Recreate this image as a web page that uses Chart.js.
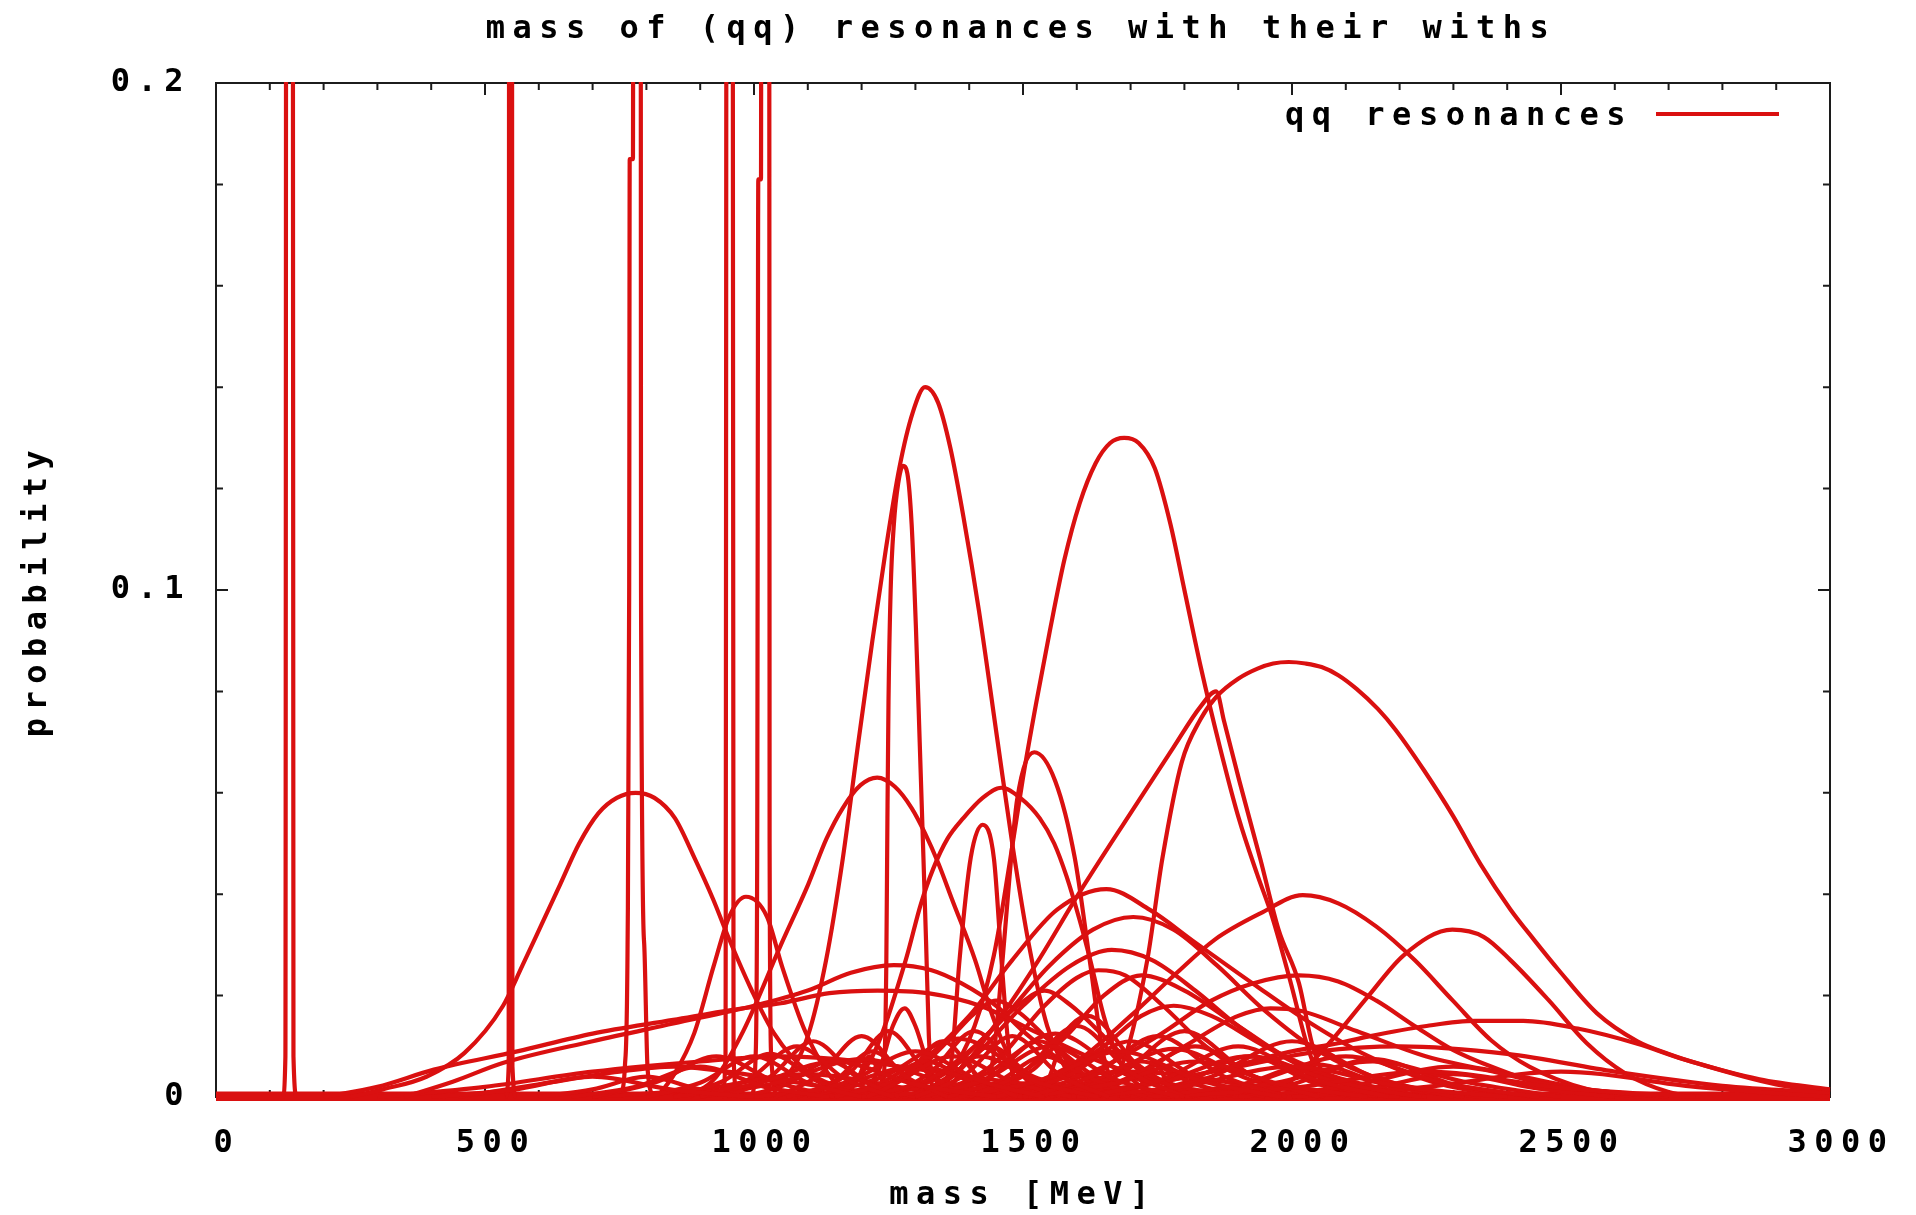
<!DOCTYPE html>
<html>
<head>
<meta charset="utf-8">
<title>qq resonances</title>
<script src="https://cdn.jsdelivr.net/npm/chart.js@4.4.1/dist/chart.umd.min.js"></script>
<style>
  html, body { margin: 0; background: #fff; }
  canvas { display: block; }
</style>
</head>
<body>
<canvas id="resonances" width="1916" height="1215"></canvas>
<script>
// axes
const massRange = [0, 3000];
const probRange = [0, 0.2];
const massLabels = [0, 500, 1000, 1500, 2000, 2500, 3000];
const probLabels = [0, 0.1, 0.2];

// [mass MeV, probability] per resonance

// very narrow states, they run off the top of the plot
const narrowStates = [
  [[124, 0], [129, 0.008], [132, 0.6], [141, 0.6], [144, 0.008], [150, 0]],
  [[538, 0], [544, 0.006], [546, 0.6], [549, 0.6], [551, 0.006], [558, 0]],
  [[752, 0], [760, 0.006], [765, 0.03], [768, 0.1], [769, 0.185], [775, 0.185], [777, 0.6], [788, 0.6], [790, 0.1], [796, 0.03], [802, 0.006], [812, 0]],
  [[940, 0], [947, 0.008], [951, 0.6], [958, 0.6], [962, 0.008], [970, 0]],
  [[996, 0], [1003, 0.008], [1006, 0.05], [1008, 0.181], [1013, 0.181], [1015, 0.6], [1027, 0.6], [1029, 0.05], [1032, 0.008], [1040, 0]]
];

// the big ones
const tallStates = [
  [[1000, 0], [1060, 0.004], [1100, 0.012], [1134, 0.027], [1165, 0.047], [1194, 0.070], [1220, 0.090], [1245, 0.108], [1270, 0.124], [1295, 0.135], [1318, 0.140], [1342, 0.137], [1365, 0.128], [1390, 0.114], [1418, 0.096], [1453, 0.070], [1480, 0.050], [1511, 0.030], [1545, 0.014], [1590, 0.004], [1650, 0]],
  [[1238, 0], [1243, 0.008], [1246, 0.027], [1248, 0.055], [1250, 0.078], [1254, 0.100], [1260, 0.113], [1268, 0.121], [1277, 0.1245], [1285, 0.123], [1293, 0.113], [1301, 0.0925], [1308, 0.070], [1315, 0.047], [1320, 0.030], [1325, 0.012], [1332, 0]],
  [[1300, 0], [1360, 0.004], [1410, 0.014], [1446, 0.028], [1475, 0.046], [1500, 0.063], [1525, 0.078], [1550, 0.092], [1577, 0.106], [1605, 0.117], [1635, 0.125], [1662, 0.129], [1688, 0.130], [1715, 0.129], [1745, 0.124], [1774, 0.113], [1800, 0.100], [1830, 0.085], [1866, 0.069], [1901, 0.055], [1935, 0.044], [1963, 0.0356], [1998, 0.0224], [2027, 0.0106], [2055, 0.003], [2100, 0]],
  [[1300, 0], [1380, 0.005], [1460, 0.016], [1529, 0.027], [1603, 0.040], [1700, 0.056], [1780, 0.069], [1830, 0.077], [1859, 0.080], [1874, 0.074], [1902, 0.0624], [1941, 0.047], [1975, 0.033], [2013, 0.0224], [2037, 0.0106], [2065, 0.003], [2110, 0]],
  [[1640, 0], [1690, 0.008], [1731, 0.027], [1759, 0.047], [1795, 0.066], [1830, 0.0745], [1860, 0.079], [1900, 0.0825], [1936, 0.0845], [1965, 0.0855], [1994, 0.0858], [2025, 0.0855], [2055, 0.0848], [2086, 0.0832], [2120, 0.0805], [2160, 0.0765], [2192, 0.0725], [2245, 0.0645], [2299, 0.0555], [2350, 0.046], [2406, 0.037], [2450, 0.031], [2496, 0.025], [2567, 0.0165], [2642, 0.011], [2700, 0.0085], [2758, 0.0065], [2900, 0.0025], [3000, 0.001]]
];

// medium peaks
const midStates = [
  [[250, 0], [310, 0.0015], [391, 0.004], [462, 0.0087], [533, 0.0179], [569, 0.0258], [605, 0.034], [640, 0.042], [675, 0.050], [711, 0.056], [745, 0.059], [780, 0.060], [815, 0.059], [853, 0.055], [890, 0.047], [924, 0.039], [952, 0.0316], [995, 0.0212], [1037, 0.0126], [1100, 0.005], [1200, 0.001], [1300, 0]],
  [[820, 0], [853, 0.0047], [889, 0.0126], [925, 0.0258], [954, 0.0356], [985, 0.0395], [1024, 0.0356], [1052, 0.0258], [1095, 0.013], [1150, 0.003], [1200, 0]],
  [[880, 0], [930, 0.004], [980, 0.013], [1050, 0.030], [1101, 0.042], [1135, 0.051], [1165, 0.057], [1198, 0.0615], [1229, 0.063], [1262, 0.0612], [1293, 0.057], [1318, 0.052], [1343, 0.046], [1368, 0.039], [1411, 0.027], [1440, 0.017], [1470, 0.009], [1510, 0.003], [1560, 0]],
  [[1150, 0], [1220, 0.008], [1282, 0.027], [1310, 0.038], [1333, 0.045], [1360, 0.051], [1389, 0.055], [1425, 0.059], [1460, 0.061], [1495, 0.059], [1531, 0.055], [1558, 0.050], [1581, 0.0435], [1605, 0.035], [1625, 0.027], [1650, 0.016], [1680, 0.007], [1740, 0]],
  [[1420, 0], [1445, 0.008], [1462, 0.027], [1475, 0.0435], [1489, 0.0586], [1521, 0.068], [1560, 0.0623], [1596, 0.0473], [1624, 0.027], [1650, 0.008], [1680, 0]],
  [[1350, 0], [1368, 0.008], [1382, 0.027], [1403, 0.0473], [1425, 0.0537], [1446, 0.047], [1460, 0.027], [1475, 0.008], [1495, 0]],
  [[1200, 0], [1300, 0.006], [1400, 0.016], [1480, 0.027], [1564, 0.037], [1655, 0.041], [1736, 0.0369], [1821, 0.0304], [1927, 0.0224], [2034, 0.0146], [2141, 0.0081], [2260, 0.003], [2400, 0]],
  [[1250, 0], [1350, 0.005], [1450, 0.014], [1550, 0.026], [1630, 0.033], [1705, 0.0355], [1780, 0.033], [1860, 0.026], [1950, 0.017], [2050, 0.009], [2180, 0.003], [2350, 0]],
  [[1300, 0], [1400, 0.007], [1500, 0.018], [1590, 0.026], [1665, 0.029], [1740, 0.027], [1820, 0.021], [1900, 0.014], [2000, 0.007], [2120, 0.002], [2250, 0]],
  [[1350, 0], [1450, 0.007], [1540, 0.018], [1600, 0.0235], [1640, 0.025], [1690, 0.024], [1760, 0.018], [1840, 0.010], [1930, 0.004], [2050, 0]],
  [[1400, 0], [1500, 0.002], [1600, 0.007], [1700, 0.016], [1785, 0.0244], [1856, 0.031], [1941, 0.0362], [2020, 0.0398], [2086, 0.0382], [2157, 0.0336], [2228, 0.027], [2299, 0.019], [2370, 0.0112], [2441, 0.006], [2550, 0.0015], [2650, 0]],
  [[1960, 0], [2015, 0.0047], [2069, 0.0106], [2141, 0.0198], [2208, 0.028], [2298, 0.033], [2356, 0.0316], [2406, 0.027], [2477, 0.0191], [2548, 0.0106], [2619, 0.0047], [2700, 0.001], [2760, 0]],
  [[1450, 0], [1550, 0.002], [1650, 0.006], [1750, 0.012], [1850, 0.019], [1927, 0.0224], [2013, 0.024], [2086, 0.0228], [2157, 0.019], [2228, 0.014], [2299, 0.0093], [2370, 0.006], [2480, 0.002], [2600, 0]]
];

// wide, low states
const lowStates = [
  [[1500, 0], [1700, 0.002], [1850, 0.005], [2000, 0.009], [2086, 0.0106], [2141, 0.0119], [2250, 0.014], [2340, 0.015], [2430, 0.015], [2531, 0.0135], [2642, 0.0105], [2726, 0.0075], [2869, 0.0035], [3000, 0.0015]],
  [[200, 0], [300, 0.002], [405, 0.0054], [560, 0.009], [700, 0.0125], [850, 0.0152], [960, 0.0172], [1050, 0.0185], [1140, 0.0205], [1230, 0.021], [1323, 0.0205], [1420, 0.018], [1520, 0.013], [1620, 0.008], [1750, 0.003], [1900, 0]],
  [[350, 0], [440, 0.003], [533, 0.0067], [700, 0.011], [850, 0.0145], [1000, 0.018], [1100, 0.021], [1180, 0.0245], [1260, 0.026], [1330, 0.025], [1386, 0.0224], [1450, 0.018], [1500, 0.013], [1560, 0.008], [1640, 0.003], [1750, 0]],
  [[1200, 0], [1235, 0.006], [1258, 0.014], [1280, 0.0175], [1300, 0.014], [1325, 0.006], [1360, 0]],
  [[1250, 0], [1360, 0.005], [1430, 0.012], [1490, 0.018], [1540, 0.021], [1590, 0.018], [1650, 0.012], [1720, 0.005], [1830, 0]],
  [[1200, 0], [1300, 0.005], [1360, 0.011], [1410, 0.0165], [1450, 0.019], [1495, 0.0165], [1550, 0.011], [1620, 0.005], [1720, 0]],
  [[1400, 0], [1500, 0.005], [1580, 0.012], [1650, 0.020], [1720, 0.024], [1800, 0.021], [1900, 0.014], [2020, 0.006], [2150, 0.0015], [2250, 0]],
  [[1450, 0], [1560, 0.004], [1650, 0.010], [1720, 0.016], [1780, 0.018], [1850, 0.016], [1950, 0.010], [2080, 0.004], [2250, 0]],
  [[1600, 0], [1700, 0.004], [1800, 0.010], [1900, 0.016], [1960, 0.0175], [2015, 0.017], [2120, 0.013], [2250, 0.008], [2406, 0.0045], [2550, 0.0015], [2700, 0]],
  [[1500, 0], [1700, 0.002], [1900, 0.006], [2050, 0.009], [2200, 0.010], [2400, 0.0085], [2600, 0.005], [2800, 0.0022], [3000, 0.0008]],
  [[300, 0], [500, 0.002], [700, 0.005], [900, 0.007], [1050, 0.008], [1200, 0.007], [1400, 0.004], [1600, 0.0015], [1800, 0]],
  [[450, 0], [600, 0.0025], [750, 0.005], [850, 0.006], [950, 0.005], [1100, 0.0025], [1250, 0]]
];

// small bumps crowding the floor
const floorStates = [
  [[400, 0], [550, 0.0014], [700, 0.004], [850, 0.0014], [1000, 0]],
  [[660, 0], [780, 0.002], [900, 0.006], [1020, 0.002], [1140, 0]],
  [[800, 0], [900, 0.0028], [1000, 0.008], [1100, 0.0028], [1200, 0]],
  [[900, 0], [990, 0.0035], [1080, 0.010], [1170, 0.0035], [1260, 0]],
  [[850, 0], [1000, 0.0025], [1150, 0.007], [1300, 0.0025], [1450, 0]],
  [[1040, 0], [1120, 0.0042], [1200, 0.012], [1280, 0.0042], [1360, 0]],
  [[1060, 0], [1180, 0.0032], [1300, 0.009], [1420, 0.0032], [1540, 0]],
  [[1210, 0], [1280, 0.0038], [1350, 0.011], [1420, 0.0038], [1490, 0]],
  [[1200, 0], [1310, 0.0028], [1420, 0.008], [1530, 0.0028], [1640, 0]],
  [[1300, 0], [1390, 0.0042], [1480, 0.012], [1570, 0.0042], [1660, 0]],
  [[1310, 0], [1430, 0.0035], [1550, 0.010], [1670, 0.0035], [1790, 0]],
  [[1400, 0], [1500, 0.0049], [1600, 0.014], [1700, 0.0049], [1800, 0]],
  [[1380, 0], [1530, 0.0032], [1680, 0.009], [1830, 0.0032], [1980, 0]],
  [[1510, 0], [1630, 0.0042], [1750, 0.012], [1870, 0.0042], [1990, 0]],
  [[1500, 0], [1660, 0.0025], [1820, 0.007], [1980, 0.0025], [2140, 0]],
  [[1620, 0], [1760, 0.0035], [1900, 0.010], [2040, 0.0035], [2180, 0]],
  [[1600, 0], [1800, 0.0021], [2000, 0.006], [2200, 0.0021], [2400, 0]],
  [[1740, 0], [1920, 0.0028], [2100, 0.008], [2280, 0.0028], [2460, 0]],
  [[1750, 0], [2000, 0.0018], [2250, 0.005], [2500, 0.0018], [2750, 0]],
  [[950, 0], [1030, 0.004], [1110, 0.011], [1190, 0.004], [1270, 0]],
  [[1100, 0], [1180, 0.005], [1250, 0.013], [1320, 0.005], [1400, 0]],
  [[1150, 0], [1260, 0.003], [1370, 0.008], [1480, 0.003], [1590, 0]],
  [[1250, 0], [1330, 0.005], [1410, 0.013], [1490, 0.005], [1570, 0]],
  [[1330, 0], [1440, 0.004], [1530, 0.011], [1620, 0.004], [1730, 0]],
  [[1420, 0], [1520, 0.0055], [1620, 0.016], [1720, 0.0055], [1820, 0]],
  [[1450, 0], [1580, 0.004], [1700, 0.011], [1820, 0.004], [1950, 0]],
  [[1550, 0], [1680, 0.0045], [1800, 0.013], [1920, 0.0045], [2050, 0]],
  [[1600, 0], [1760, 0.003], [1920, 0.008], [2080, 0.003], [2240, 0]],
  [[1700, 0], [1850, 0.004], [2000, 0.011], [2150, 0.004], [2300, 0]],
  [[1800, 0], [1980, 0.003], [2150, 0.007], [2320, 0.003], [2500, 0]],
  [[1900, 0], [2100, 0.002], [2300, 0.006], [2500, 0.002], [2700, 0]],
  [[2000, 0], [2250, 0.002], [2500, 0.005], [2750, 0.002], [3000, 0]],
  [[1200, 0], [1450, 0.002], [1700, 0.005], [1950, 0.002], [2200, 0]],
  [[900, 0], [1050, 0.003], [1200, 0.0075], [1350, 0.003], [1500, 0]],
  [[1000, 0], [1150, 0.002], [1300, 0.006], [1450, 0.002], [1600, 0]],
  [[600, 0], [700, 0.0015], [800, 0.004], [900, 0.0015], [1000, 0]],
  [[700, 0], [820, 0.003], [930, 0.008], [1040, 0.003], [1150, 0]],
  [[850, 0], [940, 0.003], [1030, 0.0085], [1120, 0.003], [1210, 0]],
  [[980, 0], [1060, 0.0025], [1140, 0.007], [1220, 0.0025], [1300, 0]],
  [[1080, 0], [1150, 0.0032], [1220, 0.009], [1290, 0.0032], [1360, 0]],
  [[1140, 0], [1230, 0.0025], [1320, 0.007], [1410, 0.0025], [1500, 0]],
  [[1280, 0], [1360, 0.0035], [1440, 0.010], [1520, 0.0035], [1600, 0]],
  [[1360, 0], [1450, 0.0028], [1540, 0.008], [1630, 0.0028], [1720, 0]],
  [[1460, 0], [1560, 0.0032], [1660, 0.009], [1760, 0.0032], [1860, 0]],
  [[1520, 0], [1620, 0.0025], [1720, 0.007], [1820, 0.0025], [1920, 0]],
  [[1580, 0], [1700, 0.0035], [1820, 0.010], [1940, 0.0035], [2060, 0]],
  [[1680, 0], [1800, 0.0028], [1920, 0.008], [2040, 0.0028], [2160, 0]],
  [[1760, 0], [1900, 0.0022], [2040, 0.0065], [2180, 0.0022], [2320, 0]],
  [[1850, 0], [2000, 0.0025], [2150, 0.0075], [2300, 0.0025], [2450, 0]],
  [[2000, 0], [2150, 0.0018], [2300, 0.0045], [2450, 0.0018], [2600, 0]],
  [[1100, 0], [1240, 0.004], [1380, 0.0115], [1520, 0.004], [1660, 0]],
  [[1300, 0], [1430, 0.0045], [1560, 0.0125], [1690, 0.0045], [1820, 0]],
  [[1500, 0], [1640, 0.0035], [1780, 0.0095], [1920, 0.0035], [2060, 0]],
  [[700, 0], [900, 0.0015], [1100, 0.0045], [1300, 0.0015], [1500, 0]],
  [[1150, 0], [1190, 0.003], [1215, 0.008], [1240, 0.003], [1280, 0]],
  [[1500, 0], [1545, 0.003], [1570, 0.009], [1595, 0.003], [1640, 0]],
  [[1330, 0], [1370, 0.0025], [1395, 0.007], [1420, 0.0025], [1460, 0]],
  [[1680, 0], [1720, 0.0025], [1745, 0.007], [1770, 0.0025], [1810, 0]]
];

// all the tails piled up on zero
const baseline = [[0, 0], [3000, 0]];

const lineRed = 'rgb(218, 16, 16)';
const textFont = { family: "'DejaVu Sans Mono', monospace", size: 32, weight: 'bold' };
const fontCss = "bold 32px 'DejaVu Sans Mono', monospace";
const letterGap = '7.5px';

const allCurves = [...floorStates, ...lowStates, ...midStates, ...tallStates, ...narrowStates];

const datasets = allCurves.map(pts => ({
  data: pts.map(([x, y]) => ({ x, y })),
  borderColor: lineRed,
  borderWidth: 4.2,
  pointRadius: 0,
  cubicInterpolationMode: 'monotone',
  fill: false,
  clip: { left: 2, right: 2, top: 1, bottom: 5 }
}));
datasets.push({
  data: baseline.map(([x, y]) => ({ x, y })),
  borderColor: lineRed,
  borderWidth: 11,
  pointRadius: 0,
  fill: false,
  clip: { left: 0, right: 0, top: 0, bottom: 4 }
});

function isLabel(list, v) {
  return list.some(p => Math.abs(p - v) < 1e-9);
}

// canvas state resets on resize, so keep re-applying the wide spacing
const spacing = {
  id: 'spacing',
  beforeUpdate(chart) { chart.ctx.letterSpacing = letterGap; },
  beforeDraw(chart) { chart.ctx.letterSpacing = letterGap; }
};

// gnuplot style frame with inward ticks on all four sides
const frameTicks = {
  id: 'frameTicks',
  beforeDatasetsDraw(chart) {
    const { ctx, chartArea: a, scales: { x, y } } = chart;
    ctx.save();
    ctx.strokeStyle = '#1c1c1c';
    ctx.lineWidth = 2;
    ctx.strokeRect(a.left, a.top, a.right - a.left, a.bottom - a.top);
    ctx.beginPath();
    x.ticks.forEach(t => {
      const px = x.getPixelForValue(t.value);
      const len = isLabel(massLabels, t.value) ? 12 : 7;
      ctx.moveTo(px, a.bottom); ctx.lineTo(px, a.bottom - len);
      ctx.moveTo(px, a.top); ctx.lineTo(px, a.top + len);
    });
    y.ticks.forEach(t => {
      const py = y.getPixelForValue(t.value);
      const len = isLabel(probLabels, t.value) ? 12 : 7;
      ctx.moveTo(a.left, py); ctx.lineTo(a.left + len, py);
      ctx.moveTo(a.right, py); ctx.lineTo(a.right - len, py);
    });
    ctx.stroke();
    ctx.restore();
  }
};

// title over the plot and the key in the top right corner
const titleAndKey = {
  id: 'titleAndKey',
  afterDraw(chart) {
    const { ctx, chartArea: a } = chart;
    ctx.save();
    ctx.letterSpacing = letterGap;
    ctx.font = fontCss;
    ctx.fillStyle = '#000';
    ctx.textBaseline = 'middle';
    ctx.textAlign = 'center';
    ctx.fillText('mass of (qq) resonances with their withs', (a.left + a.right) / 2 - 2, 30);
    ctx.textAlign = 'right';
    ctx.fillText('qq resonances', 1633, 117);
    ctx.strokeStyle = lineRed;
    ctx.lineWidth = 4.2;
    ctx.beginPath();
    ctx.moveTo(1656, 114);
    ctx.lineTo(1779, 114);
    ctx.stroke();
    ctx.restore();
  }
};

new Chart(document.getElementById('resonances'), {
  type: 'line',
  data: { datasets },
  options: {
    responsive: false,
    animation: false,
    events: [],
    layout: { padding: { top: 83, right: 86, left: 0, bottom: 0 } },
    plugins: {
      legend: { display: false },
      title: { display: false },
      tooltip: { enabled: false }
    },
    scales: {
      x: {
        type: 'linear',
        min: massRange[0],
        max: massRange[1],
        grid: { display: false },
        border: { display: false },
        ticks: {
          stepSize: 100,
          autoSkip: false,
          maxRotation: 0,
          padding: 19,
          labelOffset: 11,
          color: '#000',
          font: textFont,
          callback: v => isLabel(massLabels, v) ? String(v) : ''
        },
        title: { display: true, text: 'mass [MeV]', color: '#000', font: textFont, padding: { top: 0, bottom: 0 } },
        afterFit(scale) { scale.height = 118; }
      },
      y: {
        type: 'linear',
        min: probRange[0],
        max: probRange[1],
        grid: { display: false },
        border: { display: false },
        ticks: {
          stepSize: 0.02,
          autoSkip: false,
          padding: 17,
          color: '#000',
          font: textFont,
          callback: v => {
            const hit = probLabels.find(p => Math.abs(p - v) < 1e-9);
            return hit === undefined ? '' : String(hit);
          }
        },
        title: { display: true, text: 'probability', color: '#000', font: textFont, padding: { top: 18, bottom: 0 } },
        afterFit(scale) { scale.width = 216; }
      }
    }
  },
  plugins: [spacing, frameTicks, titleAndKey]
});
</script>
</body>
</html>
